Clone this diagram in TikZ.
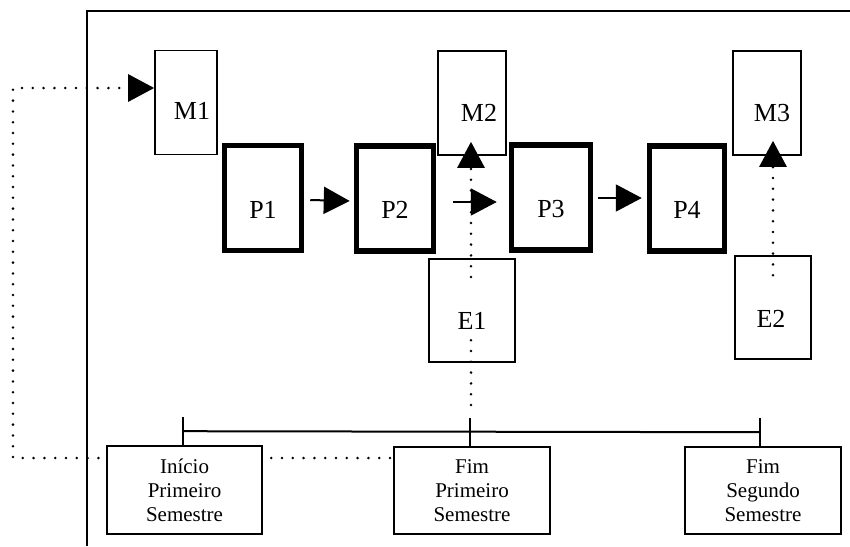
\documentclass[tikz,border=0pt]{standalone}
\usepackage{fontspec}
\setmainfont{Liberation Serif}
\usetikzlibrary{arrows.meta}
\tikzset{
 mbox/.style={draw, line width=1.6pt, fill=white, inner sep=0pt},
 pbox/.style={draw, line width=5.5pt, fill=white, minimum width=77pt, minimum height=105pt, inner sep=0pt},
 lab/.style={font=\fontsize{26}{30}\selectfont, inner sep=0pt},
 tbox/.style={draw, line width=1.6pt, fill=white, align=center, inner sep=0pt,
   font=\fontsize{21}{24}\selectfont, minimum width=155pt, minimum height=88pt},
 dotline/.style={line width=2.8pt, line cap=round, dash pattern=on 0pt off 10.8pt},
 arr/.style={-{Triangle[length=26pt,width=27pt]}},
 thinline/.style={line width=2pt},
 frameline/.style={line width=2pt}
}
\begin{document}
\begin{tikzpicture}[x=1pt,y=-1pt]
\useasboundingbox (0,0) rectangle (850,546);
% frame
\draw[frameline] (87,546) -- (87,11) -- (850,11);
% M boxes
\node[mbox, minimum width=62pt, minimum height=104pt, label={[lab, xshift=6pt, yshift=-8pt]center:M1}] (M1) at (186,102.5) {};
\node[mbox, minimum width=68pt, minimum height=104pt, label={[lab, xshift=7pt, yshift=-10pt]center:M2}] (M2) at (472,103) {};
\node[mbox, minimum width=68pt, minimum height=104pt, label={[lab, xshift=5pt, yshift=-10pt]center:M3}] (M3) at (767,103) {};
% left dotted feedback line
\coordinate (c0) at (390,458);
\coordinate (c1) at (13,458);
\coordinate (c2) at (13,88);
\draw[dotline, arr] (c0) -- (c1) -- (c2) -- ([yshift=14.5pt]M1.west);
% P boxes
\node[pbox, label={[lab, yshift=-12pt]center:P1}] (P1) at (263,198) {};
\node[pbox, label={[lab, yshift=-11pt]center:P2}] (P2) at (395,198.5) {};
\node[pbox, minimum width=79pt, label={[lab, yshift=-12pt]center:P3}] (P3) at (551,197.5) {};
\node[pbox, minimum width=75pt, label={[lab, yshift=-11pt]center:P4}] (P4) at (687,198.5) {};
% E boxes
\node[mbox, minimum width=86pt, minimum height=103pt, label={[lab, yshift=-10pt]center:E1}] (E1) at (472,310.5) {};
\node[mbox, minimum width=76pt, minimum height=103pt, label={[lab, xshift=-2pt, yshift=-11pt]center:E2}] (E2) at (773,307.5) {};
% bottom boxes
\node[tbox] (I) at (184.5,490) {Início\\Primeiro\\Semestre};
\node[tbox, minimum width=156pt, minimum height=87pt] (FP) at (472,490.5) {Fim\\Primeiro\\Semestre};
\node[tbox, minimum width=156pt, minimum height=87pt] (FS) at (763,490.5) {Fim\\Segundo\\Semestre};
% timeline
\draw[thinline] ([xshift=-1.5pt]I.north) -- ++(0,-28);
\draw[thinline] ([xshift=-2pt]FP.north) -- ++(0,-28);
\draw[thinline] ([xshift=-3pt]FS.north) -- ++(0,-28);
\draw[thinline] ([xshift=-1.5pt,yshift=14pt]I.north) -- ([xshift=-3pt,yshift=14pt]FS.north);
% process arrows
\draw[thinline, arr] ([xshift=6pt,yshift=-2pt]P1.east) -- ([xshift=-4pt,yshift=-2.5pt]P2.west);
\draw[thinline, arr] ([xshift=17pt,yshift=-3.5pt]P2.east) -- ([xshift=-12pt,yshift=-4.5pt]P3.west);
\draw[thinline, arr] ([xshift=5pt,yshift=-0.5pt]P3.east) -- ([xshift=-5pt,yshift=0.5pt]P4.west);
% dotted links E -> M
\coordinate (d1) at (471,405);
\coordinate (d2) at (471,338);
\coordinate (d3) at (471,277);
\draw[dotline] (d1) -- (d2);
\draw[dotline, arr] (d3) -- ([xshift=-1pt,yshift=14pt]M2.south);
\draw[dotline, arr] ([yshift=-20pt]E2.north) -- ([xshift=6pt,yshift=15pt]M3.south);
\end{tikzpicture}
\end{document}
